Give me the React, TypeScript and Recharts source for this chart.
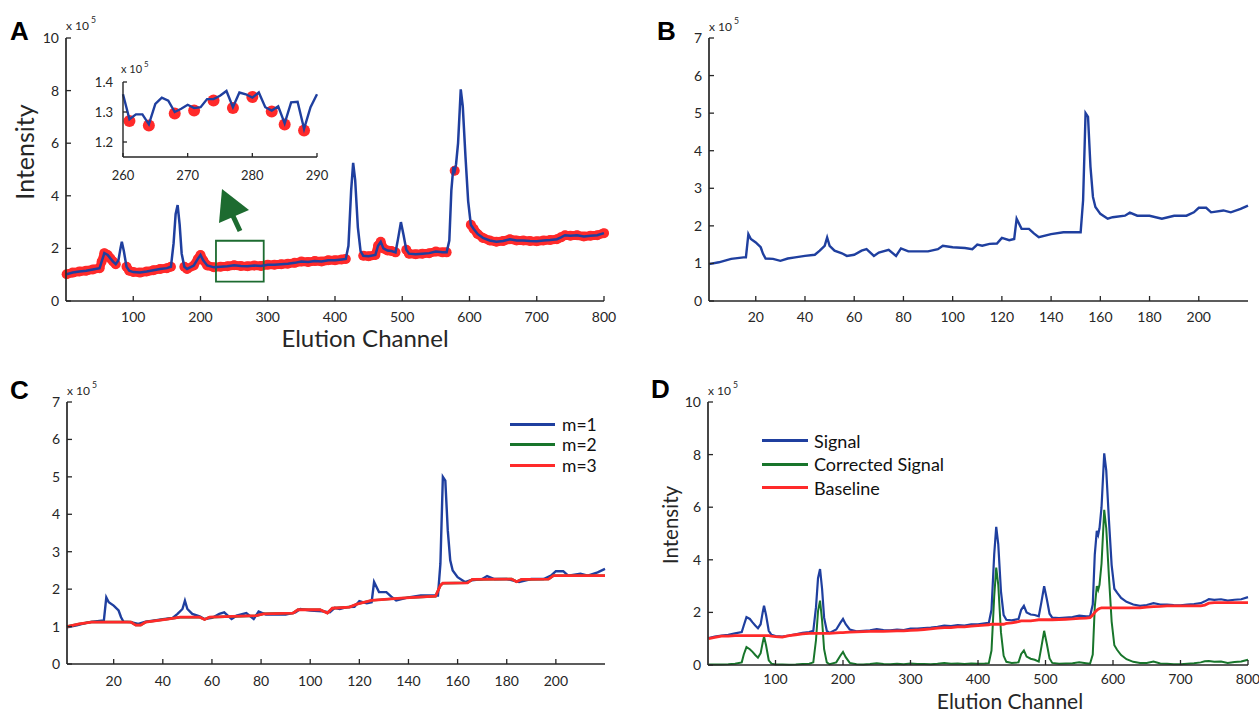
import React from 'react';
import { LineChart, Line, XAxis, YAxis, ReferenceArea, Legend } from 'recharts';

const FONT = 'Lato, "Noto Sans", sans-serif';
const INK = '#262626';
const BLUE = '#1f3f9f';
const RED = '#ff2a2a';
const GREEN = '#18752b';
const BOX_GREEN = '#1d6b30';
const GAP = 7;

// 800-channel run, panels A and D
const channels = [
  1, 10, 20, 30, 40, 50, 53, 57, 62, 66,
  70, 74, 78, 81, 83, 86, 90, 94, 100, 110,
  120, 130, 140, 150, 156, 160, 163, 166, 169, 172,
  176, 180, 190, 196, 200, 204, 210, 220, 230, 240,
  250, 260, 270, 280, 290, 300, 310, 320, 330, 340,
  350, 360, 370, 380, 390, 400, 410, 416, 420, 424,
  427, 430, 434, 438, 442, 450, 460, 464, 468, 472,
  478, 484, 490, 494, 498, 502, 506, 510, 520, 530,
  540, 550, 560, 566, 570, 573, 576, 578, 580, 583,
  587, 590, 594, 598, 602, 606, 612, 620, 630, 640,
  650, 660, 670, 680, 690, 700, 710, 720, 730, 736,
  742, 750, 760, 770, 780, 790, 800,
];
const signal = [
  1.02, 1.08, 1.12, 1.15, 1.2, 1.25, 1.5, 1.82, 1.75, 1.62,
  1.5, 1.4, 1.55, 2.0, 2.25, 1.9, 1.3, 1.15, 1.1, 1.08,
  1.12, 1.17, 1.22, 1.25, 1.3, 2.2, 3.3, 3.65, 2.9, 1.8,
  1.3, 1.22, 1.35, 1.6, 1.75, 1.55, 1.35, 1.28, 1.3, 1.32,
  1.36, 1.33, 1.32, 1.35, 1.33, 1.38, 1.38, 1.4, 1.42, 1.45,
  1.5, 1.48, 1.52, 1.5, 1.55, 1.55, 1.58, 1.6, 2.1, 4.2,
  5.25, 4.6, 2.8, 1.9, 1.72, 1.7, 1.75, 2.1, 2.25, 2.0,
  1.92, 1.9, 1.85, 2.4, 3.0, 2.5, 1.95, 1.8, 1.78, 1.8,
  1.82, 1.88, 1.85, 1.85, 2.3, 4.2, 5.1, 4.95, 5.2, 6.0,
  8.05, 7.4, 5.5, 3.8, 2.9, 2.75, 2.55, 2.4, 2.3, 2.25,
  2.28, 2.35, 2.3, 2.3, 2.28, 2.27, 2.3, 2.32, 2.35, 2.42,
  2.5, 2.48, 2.5, 2.45, 2.48, 2.5, 2.58,
];
const baseline = [
  1.0, 1.05, 1.1, 1.1, 1.12, 1.12, 1.12, 1.12, 1.12, 1.12,
  1.12, 1.12, 1.12, 1.12, 1.12, 1.12, 1.12, 1.1, 1.08, 1.06,
  1.12, 1.15, 1.18, 1.2, 1.2, 1.2, 1.2, 1.2, 1.2, 1.2,
  1.2, 1.2, 1.22, 1.23, 1.23, 1.24, 1.25, 1.26, 1.27, 1.28,
  1.29, 1.28, 1.29, 1.3, 1.3, 1.32, 1.33, 1.35, 1.37, 1.4,
  1.42, 1.42, 1.45, 1.45, 1.48, 1.5, 1.52, 1.53, 1.55, 1.55,
  1.55, 1.55, 1.55, 1.55, 1.58, 1.6, 1.65, 1.68, 1.68, 1.68,
  1.68, 1.7, 1.72, 1.72, 1.72, 1.72, 1.72, 1.72, 1.73, 1.74,
  1.75, 1.77, 1.78, 1.8, 1.9, 2.0, 2.08, 2.12, 2.15, 2.17,
  2.17, 2.17, 2.17, 2.17, 2.17, 2.17, 2.17, 2.17, 2.17, 2.17,
  2.2, 2.22, 2.23, 2.25, 2.25, 2.25, 2.25, 2.25, 2.25, 2.28,
  2.35, 2.37, 2.37, 2.37, 2.37, 2.37, 2.37,
];
const corrected = [
  0.02, 0.02, 0.02, 0.03, 0.05, 0.1, 0.4, 0.68, 0.6, 0.5,
  0.38, 0.28, 0.45, 0.85, 1.08, 0.75, 0.18, 0.05, 0.02, 0.02,
  0.01, 0.02, 0.04, 0.05, 0.1, 0.95, 2.05, 2.45, 1.7, 0.6,
  0.1, 0.03, 0.1, 0.35, 0.5, 0.3, 0.08, 0.03, 0.02, 0.04,
  0.07, 0.04, 0.03, 0.05, 0.03, 0.06, 0.04, 0.04, 0.03, 0.05,
  0.08, 0.05, 0.06, 0.04, 0.06, 0.05, 0.06, 0.07, 0.55, 2.6,
  3.7, 3.05, 1.25, 0.35, 0.12, 0.08, 0.1, 0.42, 0.55, 0.32,
  0.24, 0.2, 0.13, 0.7, 1.3, 0.8, 0.25, 0.08, 0.05, 0.06,
  0.07, 0.1, 0.07, 0.05, 0.4, 2.2, 3.0, 2.85, 3.05, 3.85,
  5.9, 5.2, 3.35, 1.65, 0.75, 0.58, 0.38, 0.22, 0.12, 0.08,
  0.08, 0.13, 0.06, 0.05, 0.03, 0.03, 0.05, 0.07, 0.1, 0.14,
  0.15, 0.12, 0.13, 0.08, 0.11, 0.13, 0.2,
];
// channel spans carrying the red minima markers in panel A
const minimaSpans = [[1, 75], [90, 156], [176, 416], [442, 490], [506, 566], [578, 578], [602, 800]];

// inset of panel A, channels 260-290
const insetChannels = [
  260, 261, 262, 263, 264, 265, 266, 267, 268, 269,
  270, 271, 272, 273, 274, 275, 276, 277, 278, 279,
  280, 281, 282, 283, 284, 285, 286, 287, 288, 289, 290,
];
const insetSignal = [
  1.359, 1.276, 1.292, 1.292, 1.259, 1.327, 1.348, 1.338, 1.3, 1.311,
  1.324, 1.313, 1.316, 1.343, 1.343, 1.354, 1.37, 1.316, 1.365, 1.359,
  1.348, 1.365, 1.316, 1.305, 1.319, 1.262, 1.332, 1.334, 1.244, 1.316, 1.359,
];
const insetMinChannels = [261, 264, 268, 271, 274, 277, 280, 283, 285, 288];
const insetMinValues = [1.27, 1.255, 1.295, 1.305, 1.338, 1.313, 1.35, 1.302, 1.258, 1.238];

// 220-channel run, panels B and C
const channelsB = [
  1, 5, 10, 15, 16, 17, 18, 20, 22, 23,
  24, 27, 30, 33, 36, 40, 44, 46, 48, 49,
  50, 52, 55, 57, 60, 63, 65, 68, 70, 74,
  77, 79, 82, 90, 94, 96, 100, 105, 108, 110,
  112, 115, 118, 120, 123, 125, 126, 128, 131, 133,
  135, 140, 145, 150, 152, 153, 154, 155, 156, 157,
  158, 160, 163, 165, 170, 172, 175, 180, 185, 190,
  195, 198, 200, 203, 205, 210, 213, 217, 220,
];
const signalB = [
  0.98, 1.03, 1.12, 1.16, 1.16, 1.78, 1.65, 1.56, 1.43, 1.25,
  1.13, 1.12, 1.07, 1.13, 1.16, 1.2, 1.23, 1.34, 1.47, 1.69,
  1.47, 1.34, 1.27, 1.2, 1.23, 1.34, 1.38, 1.2, 1.29, 1.36,
  1.2, 1.4, 1.32, 1.32, 1.38, 1.47, 1.43, 1.41, 1.38, 1.5,
  1.47, 1.52, 1.53, 1.68, 1.62, 1.65, 2.19, 1.92, 1.92, 1.8,
  1.7, 1.78, 1.83, 1.83, 1.83, 2.68, 5.0, 4.9, 3.57, 2.77,
  2.5, 2.32, 2.19, 2.23, 2.27, 2.35, 2.27, 2.27, 2.19, 2.27,
  2.27, 2.36, 2.48, 2.48, 2.36, 2.41, 2.36, 2.45, 2.54,
];
const channelsC = [
  1, 6, 11, 27, 29, 31, 33, 42, 47, 55,
  57, 59, 78, 81, 93, 95, 104, 107, 109, 116,
  119, 125, 137, 151, 153, 154, 164, 166, 182, 184,
  186, 197, 199, 220,
];
const baselineC = [
  1.0, 1.07, 1.12, 1.12, 1.04, 1.04, 1.12, 1.2, 1.25, 1.25,
  1.19, 1.25, 1.29, 1.34, 1.36, 1.45, 1.45, 1.36, 1.49, 1.52,
  1.6, 1.7, 1.76, 1.81, 2.1, 2.16, 2.17, 2.26, 2.27, 2.2,
  2.26, 2.27, 2.36, 2.36,
];

const ticks800 = [100, 200, 300, 400, 500, 600, 700, 800];
const ticks220 = [20, 40, 60, 80, 100, 120, 140, 160, 180, 200];
const ticks10 = [0, 2, 4, 6, 8, 10];
const ticks7 = [0, 1, 2, 3, 4, 5, 6, 7];
const insetXTicks = [260, 270, 280, 290];
const insetYTicks = [1.2, 1.3, 1.4];
const legendOrderC = ['m=1', 'm=2', 'm=3'];
const legendOrderD = ['Signal', 'Corrected Signal', 'Baseline'];

const inSpan = (ch: number) => minimaSpans.some(([a, b]) => ch >= a && ch <= b);
const fullData = channels.map((ch, i) => ({
  ch,
  signal: signal[i],
  baseline: baseline[i],
  corrected: corrected[i],
  minima: inSpan(ch) ? signal[i] : null,
}));
const insetData = insetChannels.map((ch, i) => {
  const k = insetMinChannels.indexOf(ch);
  return { ch, signal: insetSignal[i], minima: k >= 0 ? insetMinValues[k] : null };
});
const dataB = channelsB.map((ch, i) => ({ ch, signal: signalB[i] }));
const dataC = channelsC.map((ch, i) => ({ ch, baseline: baselineC[i] }));

const axisStyle = { stroke: INK, strokeWidth: 1.7 };

function BottomTick({ x, y, payload, fs = 14, below = 16, len = 5 }: any) {
  const axisY = y - GAP;
  return (
    <g>
      <line x1={x} x2={x} y1={axisY} y2={axisY - len} stroke={INK} strokeWidth={1.3} />
      <text x={x} y={axisY + below} dy="0.36em" textAnchor="middle" fontSize={fs} fontFamily={FONT} fill={INK}>
        {payload.value}
      </text>
    </g>
  );
}

function LeftTick({ x, y, payload, fs = 14, len = 5, gap = GAP }: any) {
  const axisX = x + gap;
  return (
    <g>
      <line x1={axisX} x2={axisX + len} y1={y} y2={y} stroke={INK} strokeWidth={1.3} />
      <text x={x} y={y} dy="0.36em" textAnchor="end" fontSize={fs} fontFamily={FONT} fill={INK}>
        {payload.value}
      </text>
    </g>
  );
}

function LegendBox({ payload, order, rowH, lineW, gap, fs }: any) {
  const items = [...(payload || [])].sort((a: any, b: any) => order.indexOf(a.value) - order.indexOf(b.value));
  return (
    <div style={{ fontFamily: FONT, fontSize: fs, color: '#111' }}>
      {items.map((p: any) => (
        <div key={p.value} style={{ display: 'flex', alignItems: 'center', height: rowH, whiteSpace: 'nowrap' }}>
          <span style={{ display: 'inline-block', width: lineW, height: 3, background: p.color, marginRight: gap }} />
          <span>{p.value}</span>
        </div>
      ))}
    </div>
  );
}

// red minima markers sit under the blue trace, so they get their own chart underneath
function PanelAMarkers() {
  return (
    <LineChart width={630} height={360} data={fullData} margin={{ top: 38, right: 26, bottom: 59, left: 66 }}>
      <XAxis dataKey="ch" type="number" domain={[0, 800]} hide />
      <YAxis type="number" domain={[0, 10]} hide />
      <Line dataKey="minima" stroke={RED} strokeWidth={9} strokeLinecap="round" strokeLinejoin="round"
        dot={{ r: 5, fill: RED, stroke: 'none' }} connectNulls={false} isAnimationActive={false} />
    </LineChart>
  );
}

function PanelA() {
  return (
    <LineChart width={630} height={360} data={fullData} margin={{ top: 38, right: 26, bottom: 0, left: 0 }}>
      <XAxis dataKey="ch" type="number" domain={[0, 800]} ticks={ticks800} interval={0} height={59}
        axisLine={axisStyle} tickLine={false} tickSize={0} tickMargin={GAP} tick={<BottomTick />} />
      <YAxis type="number" domain={[0, 10]} ticks={ticks10} interval={0} width={66}
        axisLine={axisStyle} tickLine={false} tickSize={0} tickMargin={GAP} tick={<LeftTick />} />
      <ReferenceArea x1={223} x2={294} y1={0.74} y2={2.29} fill="none" stroke={BOX_GREEN} strokeWidth={1.8} ifOverflow="visible" />
      <Line dataKey="signal" stroke={BLUE} strokeWidth={2.5} dot={false} isAnimationActive={false} />
    </LineChart>
  );
}

function InsetMarkers() {
  return (
    <LineChart width={280} height={130} data={insetData} margin={{ top: 22, right: 23, bottom: 33, left: 63 }}>
      <XAxis dataKey="ch" type="number" domain={[260, 290]} hide />
      <YAxis type="number" domain={[1.15, 1.4]} hide allowDataOverflow />
      <Line dataKey="minima" stroke="none" dot={{ r: 6, fill: RED, stroke: 'none' }} isAnimationActive={false} />
    </LineChart>
  );
}

function InsetA() {
  return (
    <LineChart width={280} height={130} data={insetData} margin={{ top: 22, right: 23, bottom: 0, left: 0 }}>
      <XAxis dataKey="ch" type="number" domain={[260, 290]} ticks={insetXTicks} interval={0} height={33}
        axisLine={{ stroke: INK, strokeWidth: 1.4 }} tickLine={false} tickSize={0} tickMargin={GAP}
        tick={<BottomTick fs={13} below={18} len={4} />} />
      <YAxis type="number" domain={[1.15, 1.4]} ticks={insetYTicks} interval={0} width={63}
        axisLine={{ stroke: INK, strokeWidth: 1.4 }} tickLine={false} tickSize={0} tickMargin={10}
        tick={<LeftTick fs={13} len={4} gap={10} />} allowDataOverflow />
      <Line dataKey="signal" stroke={BLUE} strokeWidth={2.4} dot={false} isAnimationActive={false} />
    </LineChart>
  );
}

function PanelB() {
  return (
    <LineChart width={629} height={360} data={dataB} margin={{ top: 38, right: 11, bottom: 0, left: 0 }}>
      <XAxis dataKey="ch" type="number" domain={[1, 220]} ticks={ticks220} interval={0} height={59}
        axisLine={axisStyle} tickLine={false} tickSize={0} tickMargin={GAP} tick={<BottomTick />} />
      <YAxis type="number" domain={[0, 7]} ticks={ticks7} interval={0} width={79}
        axisLine={axisStyle} tickLine={false} tickSize={0} tickMargin={GAP} tick={<LeftTick />} />
      <Line dataKey="signal" stroke={BLUE} strokeWidth={2.4} dot={false} isAnimationActive={false} />
    </LineChart>
  );
}

function PanelC() {
  return (
    <LineChart width={630} height={354} data={dataB} margin={{ top: 42, right: 25, bottom: 0, left: 0 }}>
      <XAxis dataKey="ch" type="number" domain={[1, 220]} ticks={ticks220} interval={0} height={50}
        axisLine={axisStyle} tickLine={false} tickSize={0} tickMargin={GAP} tick={<BottomTick below={17} />} />
      <YAxis type="number" domain={[0, 7]} ticks={ticks7} interval={0} width={67}
        axisLine={axisStyle} tickLine={false} tickSize={0} tickMargin={GAP} tick={<LeftTick />} />
      <Line name="m=1" dataKey="signal" stroke={BLUE} strokeWidth={2.4} dot={false} isAnimationActive={false} />
      <Line name="m=2" data={dataC} dataKey="baseline" stroke={GREEN} strokeWidth={2.5} dot={false} isAnimationActive={false} />
      <Line name="m=3" data={dataC} dataKey="baseline" stroke={RED} strokeWidth={2.8} dot={false} isAnimationActive={false} />
      <Legend layout="vertical" align="center" verticalAlign="middle"
        wrapperStyle={{ left: 510, top: 54, width: 'auto', height: 'auto' }}
        content={(props: any) => <LegendBox {...props} order={legendOrderC} rowH={20.5} lineW={45} gap={7} fs={17.5} />} />
    </LineChart>
  );
}

function PanelD() {
  return (
    <LineChart width={629} height={354} data={fullData} margin={{ top: 42, right: 11, bottom: 0, left: 0 }}>
      <XAxis dataKey="ch" type="number" domain={[0, 800]} ticks={ticks800} interval={0} height={49}
        axisLine={axisStyle} tickLine={false} tickSize={0} tickMargin={GAP} tick={<BottomTick below={14} />} />
      <YAxis type="number" domain={[0, 10]} ticks={ticks10} interval={0} width={78}
        axisLine={axisStyle} tickLine={false} tickSize={0} tickMargin={GAP} tick={<LeftTick />} />
      <Line name="Signal" dataKey="signal" stroke={BLUE} strokeWidth={2.2} dot={false} isAnimationActive={false} />
      <Line name="Corrected Signal" dataKey="corrected" stroke={GREEN} strokeWidth={2} dot={false} isAnimationActive={false} />
      <Line name="Baseline" dataKey="baseline" stroke={RED} strokeWidth={2.8} dot={false} isAnimationActive={false} />
      <Legend layout="vertical" align="center" verticalAlign="middle"
        wrapperStyle={{ left: 132, top: 69, width: 'auto', height: 'auto' }}
        content={(props: any) => <LegendBox {...props} order={legendOrderD} rowH={23.5} lineW={46} gap={6} fs={18} />} />
    </LineChart>
  );
}

function Exp({ x, y, fs = 12 }: any) {
  return (
    <text x={x} y={y} fontSize={fs} fontFamily={FONT} fill={INK}>
      x 10
      <tspan dx={2} dy={-fs * 0.55} fontSize={fs * 0.72}>5</tspan>
    </text>
  );
}

const letterStyle = { fontFamily: '"Liberation Sans", Arial, sans-serif', fontWeight: 700, fontSize: 26, fill: '#000' };

export default function App() {
  return (
    <div style={{ position: 'absolute', left: 0, top: 0, width: 1259, height: 714, background: '#fff', overflow: 'hidden' }}>
      <div style={{ position: 'absolute', left: 0, top: 0 }}><PanelAMarkers /></div>
      <div style={{ position: 'absolute', left: 0, top: 0 }}><PanelA /></div>
      <div style={{ position: 'absolute', left: 60, top: 60 }}><InsetMarkers /></div>
      <div style={{ position: 'absolute', left: 60, top: 60 }}><InsetA /></div>
      <div style={{ position: 'absolute', left: 630, top: 0 }}><PanelB /></div>
      <div style={{ position: 'absolute', left: 0, top: 360 }}><PanelC /></div>
      <div style={{ position: 'absolute', left: 630, top: 360 }}><PanelD /></div>
      <svg width={1259} height={714} style={{ position: 'absolute', left: 0, top: 0, pointerEvents: 'none' }}>
        <text x={10} y={40} {...letterStyle}>A</text>
        <text x={657} y={40} {...letterStyle}>B</text>
        <text x={10} y={399} {...letterStyle}>C</text>
        <text x={651} y={398} {...letterStyle}>D</text>
        <Exp x={66} y={30} />
        <Exp x={121} y={73} fs={11} />
        <Exp x={709} y={31} />
        <Exp x={67} y={395} />
        <Exp x={708} y={395} />
        <text transform="translate(34,152) rotate(-90)" textAnchor="middle" fontSize={25} fontFamily={FONT} fill={INK}>Intensity</text>
        <text transform="translate(678,525) rotate(-90)" textAnchor="middle" fontSize={20.5} fontFamily={FONT} fill={INK}>Intensity</text>
        <text x={365} y={347} textAnchor="middle" fontSize={24} fontFamily={FONT} fill={INK}>Elution Channel</text>
        <text x={1010} y={709} textAnchor="middle" fontSize={21} fontFamily={FONT} fill={INK}>Elution Channel</text>
        <polygon points="222,189 249,210 219,223" fill={BOX_GREEN} />
        <line x1={233} y1={216} x2={240} y2={231} stroke={BOX_GREEN} strokeWidth={5} />
      </svg>
    </div>
  );
}
